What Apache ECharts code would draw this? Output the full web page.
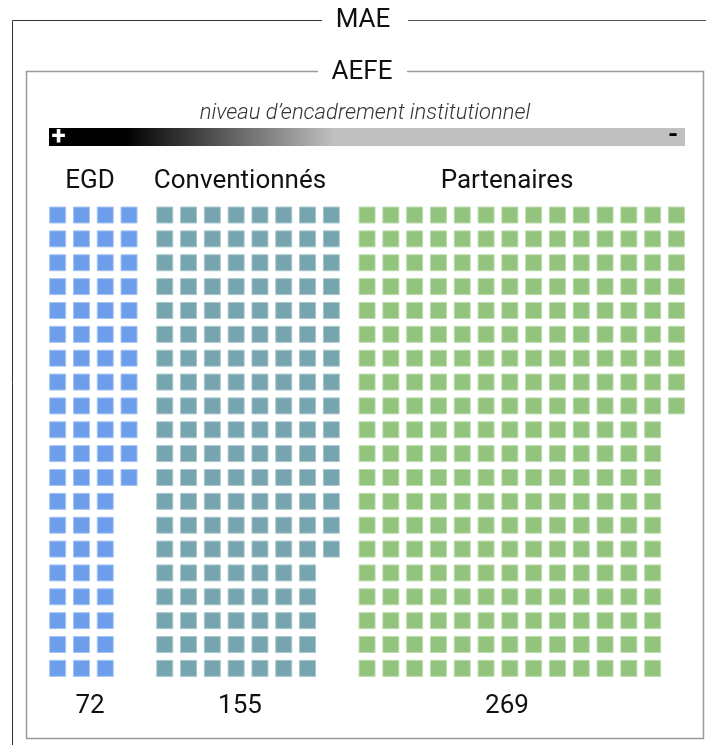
<!DOCTYPE html>
<html>
<head>
<meta charset="utf-8">
<script src="https://cdn.jsdelivr.net/npm/echarts@6/dist/echarts.min.js"></script>
<style>
html,body{margin:0;padding:0;background:#fff;}
#chart{width:706px;height:745px;}
</style>
</head>
<body>
<div id="chart"></div>
<script>
// ---- data ----
var categories = ['EGD', 'Conventionnés', 'Partenaires'];
var counts = [72, 155, 269];
var columnsPerGroup = [4, 8, 14];
var rowsPerColumn = 20;
var colors = ['#6d9eeb', '#76a5af', '#93c47d'];
var borderColors = ['#a7c5f3', '#a9c8ce', '#bddcae'];
var groupStart = [0, 4.5, 13];          // column offset of each group on the x scale
var labelX = [90, 240, 507];           // label centres (px)

var chart = echarts.init(document.getElementById('chart'), null, {renderer: 'canvas'});

function cells(g) {
  var out = [];
  for (var k = 0; k < counts[g]; k++) {
    var col = Math.floor(k / rowsPerColumn);
    var row = k % rowsPerColumn;
    out.push([groupStart[g] + col, row]);
  }
  return out;
}

var series = categories.map(function (c, g) {
  return {
    name: c,
    type: 'scatter',
    symbol: 'rect',
    symbolSize: 16,
    silent: true,
    itemStyle: {color: colors[g], borderColor: borderColors[g], borderWidth: 1, opacity: 1},
    data: cells(g)
  };
});

var font = 'Roboto, "Noto Sans", sans-serif';
var graphics = [
  // outer MAE frame
  {type: 'polyline', shape: {points: [[322, 20.5], [12.5, 20.5], [12.5, 746]]}, style: {stroke: '#333', lineWidth: 1, fill: null}},
  {type: 'line', shape: {x1: 408, y1: 20.5, x2: 707, y2: 20.5}, style: {stroke: '#555', lineWidth: 1}},
  {type: 'text', x: 363, y: 20, style: {text: 'MAE', font: '26px ' + font, fill: '#111', textAlign: 'center', textVerticalAlign: 'middle'}},
  // inner AEFE frame
  {type: 'polyline', shape: {points: [[318, 71.5], [26.5, 71.5], [26.5, 738.5], [703.5, 738.5], [703.5, 71.5], [407, 71.5]]}, style: {stroke: '#9a9a9a', lineWidth: 1.5, fill: null}},
  {type: 'text', x: 362, y: 72.5, style: {text: 'AEFE', font: '26px ' + font, fill: '#111', textAlign: 'center', textVerticalAlign: 'middle'}},
  // subtitle
  {type: 'text', x: 365, y: 113, style: {text: 'niveau d\u2019encadrement institutionnel', font: 'italic 300 22px ' + font, fill: '#333', textAlign: 'center', textVerticalAlign: 'middle'}},
  // gradient bar
  {type: 'rect', shape: {x: 49, y: 128, width: 636, height: 18}, style: {
    fill: new echarts.graphic.LinearGradient(0, 0, 1, 0, [
      {offset: 0, color: '#000'}, {offset: 0.12, color: '#000'},
      {offset: 0.45, color: '#c0c0c0'}, {offset: 1, color: '#c0c0c0'}])
  }},
  {type: 'text', x: 58.5, y: 137, style: {text: '+', font: 'bold 26px ' + font, fill: '#fff', textAlign: 'center', textVerticalAlign: 'middle'}},
  {type: 'text', x: 673, y: 136, style: {text: '-', font: 'bold 26px ' + font, fill: '#000', textAlign: 'center', textVerticalAlign: 'middle'}}
];
categories.forEach(function (c, g) {
  graphics.push({type: 'text', x: labelX[g], y: 181, style: {text: c, font: '26px ' + font, fill: '#111', textAlign: 'center', textVerticalAlign: 'middle'}});
  graphics.push({type: 'text', x: labelX[g], y: 706, style: {text: String(counts[g]), font: '26px ' + font, fill: '#111', textAlign: 'center', textVerticalAlign: 'middle'}});
});

chart.setOption({
  animation: false,
  grid: {left: 45.75, top: 203.1, width: 642.6, height: 477.2, containLabel: false},
  xAxis: {type: 'value', min: -0.5, max: 26.5, show: false},
  yAxis: {type: 'value', min: -0.5, max: 19.5, inverse: true, show: false},
  graphic: graphics,
  series: series
});
</script>
</body>
</html>
